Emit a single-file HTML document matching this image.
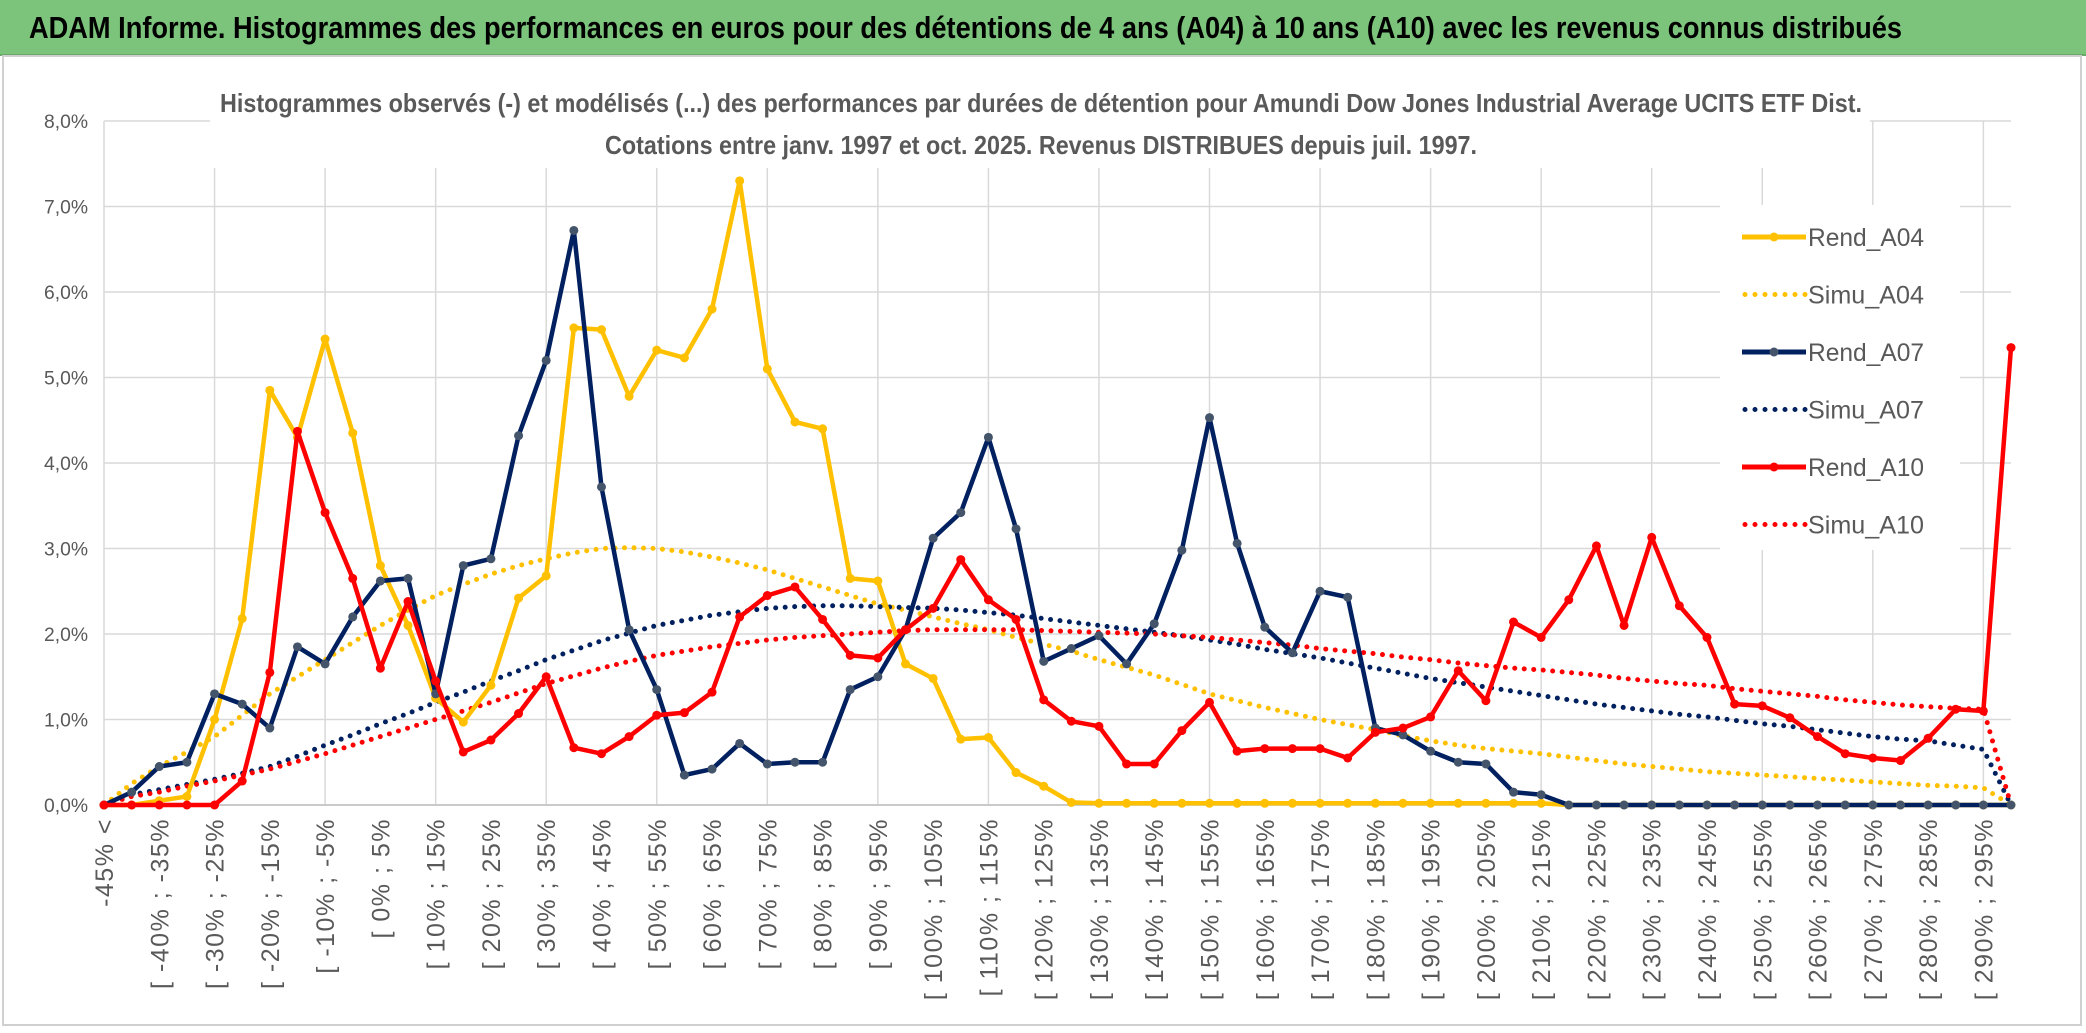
<!DOCTYPE html>
<html><head><meta charset="utf-8"><style>
html,body{margin:0;padding:0;background:#fff;width:2086px;height:1033px;overflow:hidden}
#hdr{position:absolute;left:0;top:0;width:2086px;height:54px;background:#7cc47c;border-bottom:2px solid #6aa86a}
svg{position:absolute;left:0;top:0}
</style></head><body>
<div id="hdr"></div>
<svg id="chart" width="2086" height="1033">
<text x="29" y="38" textLength="1873" lengthAdjust="spacingAndGlyphs" font-family="Liberation Sans, sans-serif" font-size="31" font-weight="bold" fill="#000">ADAM Informe. Histogrammes des performances en euros pour des détentions de 4 ans (A04) à 10 ans (A10) avec les revenus connus distribués</text>
</svg>
<script>
const categories=["-45% <"];
for(let k=0;k<69;k++){categories.push("[ "+(-45+5*k)+"% ; "+(-40+5*k)+"%");}
const yTicks=[0,1,2,3,4,5,6,7,8];
const yTickLabels=["0,0%","1,0%","2,0%","3,0%","4,0%","5,0%","6,0%","7,0%","8,0%"];
const rendA04=[0,0,0.05,0.1,1.0,2.18,4.85,4.3,5.45,4.35,2.8,2.1,1.25,0.97,1.4,2.42,2.68,5.58,5.56,4.78,5.32,5.23,5.8,7.3,5.1,4.48,4.4,2.65,2.62,1.65,1.48,0.77,0.79,0.38,0.22,0.03,0.02,0.02,0.02,0.02,0.02,0.02,0.02,0.02,0.02,0.02,0.02,0.02,0.02,0.02,0.02,0.02,0.02,0,0,0,0,0,0,0,0,0,0,0,0,0,0,0,0,0];
const rendA07=[0,0.15,0.45,0.5,1.3,1.18,0.9,1.85,1.65,2.2,2.62,2.65,1.3,2.8,2.88,4.32,5.2,6.72,3.72,2.05,1.35,0.35,0.42,0.72,0.48,0.5,0.5,1.35,1.5,2.05,3.12,3.42,4.3,3.23,1.68,1.83,1.98,1.65,2.12,2.98,4.53,3.06,2.08,1.78,2.5,2.43,0.9,0.82,0.63,0.5,0.48,0.15,0.12,0,0,0,0,0,0,0,0,0,0,0,0,0,0,0,0,0];
const rendA10=[0,0,0,0,0,0.28,1.55,4.37,3.42,2.65,1.6,2.38,1.45,0.62,0.76,1.07,1.5,0.67,0.6,0.8,1.05,1.08,1.32,2.2,2.45,2.55,2.17,1.75,1.72,2.05,2.3,2.87,2.4,2.17,1.23,0.98,0.92,0.48,0.48,0.87,1.2,0.63,0.66,0.66,0.66,0.55,0.85,0.9,1.03,1.57,1.22,2.14,1.96,2.4,3.03,2.1,3.13,2.33,1.96,1.18,1.16,1.02,0.8,0.6,0.55,0.52,0.78,1.12,1.1,5.35];
const simuA04=[0,0.25,0.45,0.62,0.8,1.05,1.3,1.5,1.7,1.9,2.1,2.28,2.45,2.58,2.7,2.8,2.88,2.95,3.0,3.01,3.0,2.96,2.9,2.83,2.75,2.65,2.55,2.45,2.35,2.28,2.2,2.12,2.05,1.96,1.88,1.8,1.7,1.61,1.52,1.41,1.3,1.22,1.14,1.07,1.0,0.94,0.88,0.81,0.75,0.7,0.66,0.63,0.6,0.56,0.52,0.48,0.45,0.42,0.39,0.37,0.35,0.33,0.31,0.29,0.27,0.25,0.23,0.22,0.2,0];
const simuA07=[0,0.12,0.18,0.24,0.3,0.37,0.45,0.57,0.7,0.82,0.95,1.07,1.2,1.32,1.45,1.57,1.7,1.81,1.92,2.01,2.1,2.16,2.22,2.26,2.3,2.32,2.33,2.33,2.32,2.31,2.3,2.28,2.25,2.22,2.18,2.14,2.1,2.06,2.02,1.98,1.93,1.88,1.82,1.77,1.72,1.66,1.6,1.54,1.48,1.43,1.38,1.33,1.28,1.23,1.18,1.14,1.1,1.06,1.03,0.99,0.95,0.92,0.88,0.84,0.8,0.77,0.75,0.7,0.65,0];
const simuA10=[0,0.1,0.15,0.22,0.28,0.35,0.42,0.51,0.6,0.7,0.8,0.9,1.0,1.1,1.2,1.31,1.42,1.51,1.6,1.68,1.75,1.8,1.85,1.89,1.93,1.96,1.98,2.0,2.02,2.04,2.05,2.05,2.05,2.05,2.04,2.03,2.02,2.01,2.0,1.98,1.96,1.93,1.9,1.87,1.83,1.8,1.77,1.73,1.7,1.66,1.63,1.6,1.58,1.55,1.52,1.48,1.45,1.42,1.4,1.36,1.33,1.3,1.27,1.23,1.2,1.17,1.15,1.13,1.12,0];
const seriesNames=["Rend_A04","Simu_A04","Rend_A07","Simu_A07","Rend_A10","Simu_A10"];

const NS="http://www.w3.org/2000/svg";
const svg=document.getElementById('chart');
const X0=104,X1=2011,Y0=805,Y8=121;
function xPos(i){return X0+(X1-X0)*i/(categories.length-1);}
function yPos(v){return Y0-(Y0-Y8)*v/8;}
function mk(tag,attrs,parent){const e=document.createElementNS(NS,tag);for(const k in attrs)e.setAttribute(k,attrs[k]);if(parent)parent.appendChild(e);else svg.insertBefore(e,null);return e;}

const fr=mk('rect',{x:3,y:56,width:2078,height:969,fill:'#fff',stroke:'#d0d0d0','stroke-width':2});



for(let i=0;i<categories.length;i+=4){
 const g=mk('line',{x1:xPos(i),x2:xPos(i),y1:Y8,y2:Y0,stroke:'#d9d9d9','stroke-width':1.5});
 
 
}
yTicks.forEach((t,k)=>{
 const g=mk('line',{x1:X0,x2:X1,y1:yPos(t),y2:yPos(t),stroke:'#d9d9d9','stroke-width':1.5});
 
 
 const tx=mk('text',{x:88,y:yPos(t)+7,'text-anchor':'end','font-family':'Liberation Sans, sans-serif','font-size':19,fill:'#595959',textLength:44,lengthAdjust:'spacingAndGlyphs'});
 tx.textContent=yTickLabels[k];
 
 
});
const tb=mk('rect',{x:210,y:78,width:1660,height:90,fill:'#fff'});


const titleLines=["Histogrammes observés (-) et modélisés (...) des performances par durées de détention pour Amundi Dow Jones Industrial Average UCITS ETF Dist.","Cotations entre janv. 1997 et oct. 2025. Revenus DISTRIBUES depuis juil. 1997."];
const titleW=[1642,872];
titleLines.forEach((s,k)=>{
 const t=mk('text',{x:1041-titleW[k]/2,y:112+k*42,'font-family':'Liberation Sans, sans-serif','font-size':26,'font-weight':'bold',fill:'#595959',textLength:titleW[k],lengthAdjust:'spacingAndGlyphs'});
 t.textContent=s;
 
 
});
categories.forEach((c,i)=>{
 if(i%2)return;
 const x=xPos(i)+9,y=818;
 const t=mk('text',{x:x,y:y,transform:`rotate(-90 ${x} ${y})`,'text-anchor':'end','font-family':'Liberation Sans, sans-serif','font-size':25,'letter-spacing':1.5,fill:'#595959'});
 t.textContent=c;
 
 
});
const axis=mk('line',{x1:X0,x2:X1,y1:Y0,y2:Y0,stroke:'#bfbfbf','stroke-width':1.5});



function pts(arr){return arr.map((v,i)=>xPos(i)+','+yPos(v)).join(' ');}
function dotted(arr,col,name){
 const p=mk('polyline',{points:pts(arr),fill:'none',stroke:col,'stroke-width':5,'stroke-linecap':'round','stroke-dasharray':'0 9.5'});
 
 
}
function solid(arr,col,mcol,name){
 const p=mk('polyline',{points:pts(arr),fill:'none',stroke:col,'stroke-width':4.5,'stroke-linejoin':'round'});
 
 
 arr.forEach((v,i)=>{
  const c=mk('circle',{cx:xPos(i),cy:yPos(v),r:4.5,fill:mcol});
  
  
 });
}
dotted(simuA04,'#ffc000','simu-a04-line');
dotted(simuA07,'#002060','simu-a07-line');
dotted(simuA10,'#ff0000','simu-a10-line');
solid(rendA04,'#ffc000','#ffc000','rend-a04-line');
solid(rendA07,'#002060','#44546a','rend-a07-line');
solid(rendA10,'#ff0000','#ff0000','rend-a10-line');

const lb=mk('rect',{x:1720,y:205,width:240,height:345,fill:'#fff'});


const legCols=['#ffc000','#ffc000','#002060','#002060','#ff0000','#ff0000'];
seriesNames.forEach((n,k)=>{
 const y=237+k*57.5;
 const g=mk('g',{});
 
 
 if(k%2===0){
  mk('line',{x1:1742,x2:1806,y1:y,y2:y,stroke:legCols[k],'stroke-width':5},g);
  mk('circle',{cx:1774,cy:y,r:4.5,fill:k===2?'#44546a':legCols[k]},g);
 } else {
  mk('line',{x1:1745,x2:1806,y1:y,y2:y,stroke:legCols[k],'stroke-width':5,'stroke-linecap':'round','stroke-dasharray':'0 10'},g);
 }
 const t=mk('text',{x:1808,y:y+9,'font-family':'Liberation Sans, sans-serif','font-size':25,fill:'#595959',textLength:116,lengthAdjust:'spacingAndGlyphs'},g);
 t.textContent=n;
});
</script>
</body></html>
